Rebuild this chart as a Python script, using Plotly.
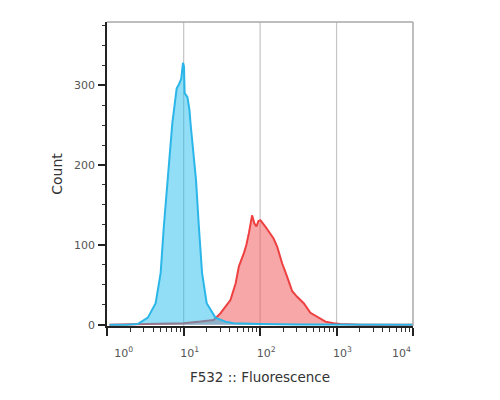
import plotly.graph_objects as go

# ---- data ----
blue_x = [1.07, 1.74, 2.5, 3.4, 4.3, 5.0, 5.5, 6.2, 7.1, 8.1, 8.6, 9.3, 9.8, 10.1, 10.3, 11.2, 11.9, 12.3,
          14.5, 15.8, 17.4, 20.0, 26.0, 35.0, 45.0, 100.0, 316.0, 10000.0]
blue_y = [0, 0, 1, 9, 27, 65, 123, 181, 252, 296, 300, 308, 328, 323, 290, 285, 269, 252,
          181, 123, 65, 27, 9, 4, 2, 1, 0.5, 0]

red_x = [1.07, 2.7, 10.0, 16.6, 24.7, 30.4, 35.0, 40.9, 47.9, 52.7, 61.5, 66.0, 71.4, 78.5, 84.0, 89.4,
         95.0, 101.0, 117.0, 134.0, 150.0, 167.0, 194.0, 226.0, 263.0, 305.0, 372.0, 455.0, 556.0,
         716.0, 915.0, 1120.0, 2050.0, 10000.0]
red_y = [0, 0.5, 2, 4, 6, 14.6, 22, 31, 52, 73, 90, 100, 115, 137, 127, 123,
         130, 131, 123, 115, 108, 98, 77, 60, 42, 35, 27, 15, 10,
         4, 2, 1, 0, 0]

x_tickvals = [1, 10, 100, 1000, 10000]
x_ticktext = ["&nbsp;" * 6 + "10<sup>0</sup>", "10<sup>1</sup>", "10<sup>2</sup>", "10<sup>3</sup>",
              "10<sup>4</sup>" + "&nbsp;" * 10]
x_minor = [m * d for d in [1, 10, 100, 1000] for m in range(2, 10)]
y_tickvals = [0, 100, 200, 300]
y_minor = [v for v in range(25, 376, 25) if v % 100 != 0]
grid_vals = [10, 100, 1000]

FONT = "DejaVu Sans"

fig = go.Figure()
fig.add_trace(go.Scatter(x=red_x, y=red_y, mode="lines", fill="tozeroy",
                         line=dict(color="#ee4040", width=2),
                         fillcolor="rgba(240,80,80,0.5)", showlegend=False))
fig.add_trace(go.Scatter(x=blue_x, y=blue_y, mode="lines", fill="tozeroy",
                         line=dict(color="#2ab6e8", width=2),
                         fillcolor="rgba(40,190,240,0.5)", showlegend=False))

# gridlines and gray top/right frame
for g in grid_vals:
    fig.add_shape(type="line", xref="x", yref="paper", x0=g, x1=g, y0=0, y1=1,
                  line=dict(color="#c4c4c4", width=1.2), layer="below")
fig.add_shape(type="line", xref="paper", yref="paper", x0=0, x1=1, y0=1, y1=1,
              line=dict(color="#a8a8a8", width=1.5))
fig.add_shape(type="line", xref="paper", yref="paper", x0=1, x1=1, y0=0, y1=1,
              line=dict(color="#a8a8a8", width=1.5))

fig.update_layout(
    width=492, height=392,
    margin=dict(l=99, r=87, t=14, b=74, autoexpand=False),
    paper_bgcolor="white", plot_bgcolor="white",
    font=dict(family=FONT, color="#444"),
    xaxis=dict(type="log", range=[-0.003, 4.0], showgrid=False, zeroline=False,
               showline=True, linecolor="#222", linewidth=1.5,
               tickmode="array", tickvals=x_tickvals, ticktext=x_ticktext,
               ticks="outside", ticklen=8, tickwidth=2, tickcolor="#222",
               ticklabelshift=6, ticklabelstandoff=8,
               tickfont=dict(size=11, color="#555"),
               minor=dict(tickmode="array", tickvals=x_minor, ticks="outside",
                          ticklen=4, tickwidth=1, tickcolor="#333", showgrid=False),
               title=dict(text="F532 :: Fluorescence", font=dict(size=13.5, color="#333"), standoff=14)),
    yaxis=dict(range=[-1.5, 379], showgrid=False, zeroline=False,
               showline=True, linecolor="#222", linewidth=1.5,
               tickmode="array", tickvals=y_tickvals,
               ticks="outside", ticklen=7, tickwidth=2, tickcolor="#222",
               ticklabelstandoff=1,
               tickfont=dict(size=11, color="#555"),
               minor=dict(tickmode="array", tickvals=y_minor, ticks="outside",
                          ticklen=3, tickwidth=1, tickcolor="#333", showgrid=False),
               title=dict(text="Count", font=dict(size=14, color="#333"), standoff=8)),
)

fig.write_html("out.html")
